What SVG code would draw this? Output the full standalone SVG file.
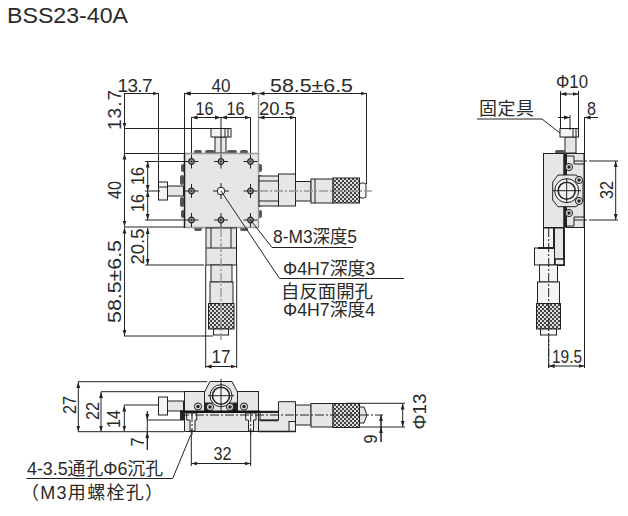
<svg xmlns="http://www.w3.org/2000/svg" width="628" height="516" viewBox="0 0 628 516">
<style>
text{font-family:"Liberation Sans","Noto Sans CJK JP",sans-serif;fill:#2a2a2a}
.t{font-size:19px;text-anchor:middle}
.c{font-size:18px}
.l{stroke:#222;stroke-width:1;fill:none}
.a{stroke:#222;stroke-width:1;fill:none;marker-start:url(#ar);marker-end:url(#ar)}
.e{stroke:#222;stroke-width:1;fill:none;marker-end:url(#ar)}
.g{fill:#e6e6e6;stroke:#222;stroke-width:1}
.w{fill:#f4f4f4;stroke:#222;stroke-width:1}
.k{fill:url(#kn);stroke:#222;stroke-width:1}
.b{fill:#222;stroke:none}
.m{stroke:#999;stroke-width:1.4;stroke-dasharray:9 2 2 2;fill:none}
.d{stroke:#222;stroke-width:1;stroke-dasharray:9 2 2 2;fill:none}
.s{stroke:#999;stroke-width:1.4;fill:none}
</style>
<defs>
<marker id="ar" markerWidth="7" markerHeight="5" refX="6" refY="2.5" orient="auto-start-reverse" markerUnits="userSpaceOnUse"><path d="M0 .6L6 2.5L0 4.4Z" fill="#222"/></marker>
<pattern id="kn" width="4" height="4" patternUnits="userSpaceOnUse"><rect width="4" height="4" fill="#444"/><rect width="2" height="2" fill="#ddd"/><rect x="2" y="2" width="2" height="2" fill="#ddd"/></pattern>
<g id="h"><path class="l" d="M-7 0H7M0-7V7"/><circle r="2.8" fill="#999" stroke="#222" stroke-width="1.2"/><circle r="1.1" fill="#333"/></g>
<g id="sc"><circle r="3.6" fill="#ddd" stroke="#222" stroke-width="1"/><circle r="1.7" fill="#222"/></g>
</defs>

<text id="title" x="7" y="23" font-size="22" textLength="121" lengthAdjust="spacingAndGlyphs">BSS23-40A</text>

<g id="top-view">
<rect class="w" x="158.5" y="182" width="9" height="18"/><rect class="g" x="167.5" y="186" width="16" height="10"/>
<rect class="g" x="215" y="137" width="11" height="16"/><rect class="w" x="211" y="128.5" width="20" height="8.5"/>
<path class="l" d="M225 129V137M228 129V137M159 187H167"/>
<g fill="#555">
<rect x="194" y="150" width="8" height="4" rx="2"/><rect x="205" y="150" width="10" height="4" rx="2"/><rect x="227" y="150" width="10" height="4" rx="2"/><rect x="240" y="150" width="8" height="4" rx="2"/>
<rect x="181" y="164" width="4" height="8" rx="2"/><rect x="180" y="175" width="4" height="10" rx="2"/><rect x="180" y="197" width="4" height="10" rx="2"/><rect x="181" y="210" width="4" height="8" rx="2"/>
<rect x="258" y="164" width="4" height="8" rx="2"/><rect x="258" y="175" width="4" height="10" rx="2"/><rect x="258" y="197" width="4" height="10" rx="2"/><rect x="258" y="210" width="4" height="8" rx="2"/>
<rect x="194" y="227" width="8" height="4" rx="2"/><rect x="240" y="227" width="8" height="4" rx="2"/>
</g>
<rect x="184.5" y="153.5" width="74" height="74" fill="#e6e6e6"/>
<path d="M184.5 153.5H258.5V227.5H184.5" fill="none" stroke="#999" stroke-width="1.4"/>
<path d="M184.5 153V228" stroke="#222" stroke-width="1.5"/>
<use href="#h" x="191.5" y="161.5"/><use href="#h" x="221" y="161.5"/><use href="#h" x="250.5" y="161.5"/>
<use href="#h" x="191.5" y="191"/><use href="#h" x="250.5" y="191"/>
<use href="#h" x="191.5" y="220"/><use href="#h" x="221" y="220"/><use href="#h" x="250.5" y="220"/>
<path class="l" d="M213 191H229M221 183V199"/><circle cx="221" cy="191" r="3.8" fill="#f4f4f4" stroke="#222"/>
<rect class="g" x="259" y="176" width="19.5" height="30"/><rect class="g" x="278.5" y="174" width="17" height="32"/>
<rect class="g" x="295.5" y="181.5" width="15.5" height="19.5"/><rect class="g" x="311" y="179" width="22" height="24"/>
<rect class="k" x="333" y="178" width="26.5" height="25"/><rect class="w" x="359.5" y="183" width="6.5" height="15" rx="2"/>
<path class="l" d="M259 181H278M259 201H278M315 179V203"/>
<path class="m" d="M259 191H372"/>
<rect class="g" x="206" y="228" width="30.5" height="37"/><path class="l" d="M206 248H236.5M211 228V248M231 228V248"/>
<rect class="g" x="211" y="265" width="21" height="17"/><rect class="g" x="210" y="282" width="23" height="21.5"/>
<rect class="k" x="208.5" y="303.5" width="25.5" height="25.5"/><rect class="w" x="213.5" y="329" width="15" height="6"/>
<path class="m" d="M221 228V340"/>
</g>

<g id="end-view">
<rect class="g" x="565" y="137" width="11" height="16"/><rect class="w" x="560" y="128.5" width="18.5" height="8.5"/>
<path class="l" d="M573 129V137M576 129V137"/>
<rect x="555" y="150" width="10" height="4" rx="2" fill="#555"/>
<rect class="g" x="543.5" y="153.5" width="20.5" height="74"/>
<rect class="g" x="566" y="153.5" width="18" height="74"/>
<path class="b" d="M563.5 153.5H567V175H563.5ZM563.5 206H567V227.5H563.5Z"/>
<path class="l" d="M567 156H574V164H584M567 226H574V217H584"/>
<path class="d" d="M574 161H590M574 220H590"/>
<path d="M558 175H576L583 181V201L576 206.7H558L552.7 200V182Z" class="g"/>
<circle cx="566.7" cy="190.7" r="12" class="w"/><circle cx="566.7" cy="190.7" r="8.5" fill="#f4f4f4" stroke="#222" stroke-width="1.6"/>
<path class="l" d="M553 190.7H581M566.7 178V203"/>
<use href="#sc" x="569" y="167"/><use href="#sc" x="569" y="213"/><use href="#sc" x="579" y="180"/><use href="#sc" x="579" y="201"/>
<rect class="w" x="543.5" y="228" width="10.5" height="20"/>
<rect class="g" x="554" y="228" width="10" height="37"/>
<rect class="w" x="534.5" y="248" width="20" height="17"/>
<path d="M538 248H554V228M564 228V265H554" fill="none" stroke="#222" stroke-width="2"/>
<rect x="555" y="259" width="9" height="6" fill="#eee" stroke="#222" stroke-width="1.5"/>
<rect class="w" x="539.5" y="265" width="18" height="17"/><rect class="w" x="537.5" y="282" width="22" height="21.5"/>
<rect class="k" x="536.5" y="303.5" width="24" height="25.5"/><rect class="w" x="540.5" y="329" width="16" height="6"/>
<path class="d" d="M548.7 228V368"/>
</g>

<g id="side-view">
<rect class="w" x="158.5" y="397" width="9" height="18"/><rect class="g" x="167.5" y="401" width="16" height="10"/>
<rect class="g" x="184.5" y="391.5" width="74" height="20"/>
<rect x="184.5" y="412" width="74" height="19.5" fill="#e6e6e6"/>
<path class="l" d="M184.5 412V431.5H258.5V412"/>
<path d="M204.5 392L210 381.5H232L237.5 392V403H204.5Z" class="g"/>
<circle cx="221" cy="395.7" r="11" class="w"/><circle cx="221" cy="395.7" r="8.5" fill="#f4f4f4" stroke="#222" stroke-width="1.6"/>
<path class="l" d="M221 379V412M208 395.7H234"/>
<path class="b" d="M204 403H208L212 411H230L233.5 403H238V411H204Z"/>
<use href="#sc" x="198" y="406.5"/><use href="#sc" x="210" y="407"/><use href="#sc" x="230" y="407"/><use href="#sc" x="244" y="406.5"/>
<path d="M180 411.7H260" stroke="#111" stroke-width="2.6"/>
<path class="b" d="M180 412H184V420H180Z"/>
<path class="w" d="M186.7 413H196.7V420H195V431H190V420H186.7Z"/><path class="w" d="M245.7 413H256V420H253.5V431H248.5V420H245.7Z"/>
<path class="d" d="M192 413V435M250.7 413V435"/>
<path class="g" d="M278.5 401.7H295.5V431.5H258.5V420H278.5Z"/>
<rect class="g" x="260" y="412.5" width="18.5" height="7.5"/>
<path d="M260 411.5H278M260 420.5H278" stroke="#222" stroke-width="1.6"/>
<rect x="289" y="421.5" width="6.5" height="10" fill="#eee" stroke="#222"/>
<path d="M258.5 431.5H295.5" stroke="#222" stroke-width="1.5"/>
<rect class="g" x="295.5" y="405" width="15.5" height="20"/><rect class="g" x="311" y="403.5" width="22" height="23.5"/>
<rect class="k" x="333" y="403.5" width="26.5" height="24"/>
<path class="g" d="M359.5 407H364L367 415L364 423H359.5Z"/>
<path class="d" d="M180 415H383"/>
</g>

<g id="dimensions">
<path class="e" d="M124.5 93.5H158.5"/><path class="e" d="M211 93.5H184.5" />
<path class="a" d="M184.5 93.5H258"/><path class="a" d="M258.5 93.5H366.5"/>
<path class="l" d="M124.5 93V153M158.5 93V182M184.5 93V153M366.5 93V184M191.5 117V153M221 117V153M250.5 117V153M295.5 117V174"/>
<path class="s" d="M258.5 93V153"/>
<path class="l" d="M124 128.5H214M124 153.5H184M124 227H184M145 161.5H184M145 220H184M145 191H160"/>
<path class="e" d="M124.5 100V128.5"/><path class="a" d="M124.5 153.5V226.5"/>
<path class="a" d="M191.5 117.5H221"/><path class="a" d="M221 117.5H250.5"/><path class="a" d="M258.5 117.5H295.5"/>
<path class="a" d="M147.7 161.5V191"/><path class="a" d="M147.7 191V220"/>
<path class="a" d="M124.5 227.5V336"/><path class="a" d="M147.7 228V265"/>
<path class="l" d="M124 336H213M145 265H204"/>
<path class="l" d="M205.7 265V368M236.7 265V368"/><path class="a" d="M205.7 366.5H236.7"/>
<path class="l" d="M221 191L279.5 278.5H404M250.5 220L272 247.5H353"/>
<path class="l" d="M78 381.7H207M101 391.7H184M124 405H159M147 420H184M78 431.7H184"/>
<path class="a" d="M78.3 382V431.5"/><path class="a" d="M101 392V431.5"/><path class="a" d="M124.3 405.5V431.5"/>
<path class="l" d="M147.3 411V450"/><path class="e" d="M147.3 412V420"/><path class="e" d="M147.3 450V432"/>
<path class="l" d="M191.3 430V466M250.7 431V466"/><path class="a" d="M191.3 463.5H250.7"/>
<path class="l" d="M190.7 435L172.7 478.5H26.5"/>
<path class="l" d="M346 403.3H405M359 427H405"/><path class="a" d="M402.7 403.5V427"/>
<path class="l" d="M381 415V442"/><path class="e" d="M381 428V415"/><path class="e" d="M381 442V427"/>
<path class="l" d="M560.5 91V128M578.5 91V128M570 115V130M584.5 117V368M548.7 340V368"/>
<path class="a" d="M560.5 94H578.5"/><path class="e" d="M558 117.5H570"/><path class="e" d="M598 117.5H584.5"/>
<path class="l" d="M477 119H542L560 133"/>
<path class="l" d="M590 161H618M590 220H618"/><path class="a" d="M615.7 161V220"/>
<path class="a" d="M548.7 366H584.5"/>
</g>

<g id="labels">
<text class="t" x="135" y="91.5" textLength="35" lengthAdjust="spacing">13.7</text>
<text class="t" x="221" y="91.5" textLength="19" lengthAdjust="spacingAndGlyphs">40</text>
<text class="t" x="311.5" y="91.5" textLength="83" lengthAdjust="spacingAndGlyphs">58.5±6.5</text>
<text class="t" x="204.5" y="115" textLength="18" lengthAdjust="spacingAndGlyphs">16</text>
<text class="t" x="235.5" y="115" textLength="18" lengthAdjust="spacingAndGlyphs">16</text>
<text class="t" x="277" y="115" textLength="36" lengthAdjust="spacingAndGlyphs">20.5</text>
<text class="t" transform="translate(120.5 110) rotate(-90)" textLength="40" lengthAdjust="spacing">13.7</text>
<text class="t" transform="translate(120.5 190) rotate(-90)" textLength="18" lengthAdjust="spacingAndGlyphs">40</text>
<text class="t" transform="translate(144 176) rotate(-90)" textLength="18" lengthAdjust="spacingAndGlyphs">16</text>
<text class="t" transform="translate(144 203) rotate(-90)" textLength="18" lengthAdjust="spacingAndGlyphs">16</text>
<text class="t" transform="translate(120.5 281.5) rotate(-90)" textLength="83" lengthAdjust="spacingAndGlyphs">58.5±6.5</text>
<text class="t" transform="translate(144 246.5) rotate(-90)" textLength="36" lengthAdjust="spacingAndGlyphs">20.5</text>
<text class="t" x="221" y="362.5" textLength="19" lengthAdjust="spacingAndGlyphs">17</text>
<text class="c" x="273" y="243" textLength="84" lengthAdjust="spacingAndGlyphs">8-M3深度5</text>
<text class="c" x="283" y="275" textLength="92" lengthAdjust="spacingAndGlyphs">Φ4H7深度3</text>
<text class="c" x="281" y="298" textLength="92" lengthAdjust="spacingAndGlyphs">自反面開孔</text>
<text class="c" x="283" y="316" textLength="92" lengthAdjust="spacingAndGlyphs">Φ4H7深度4</text>
<text class="t" transform="translate(76 405) rotate(-90)" textLength="18" lengthAdjust="spacingAndGlyphs">27</text>
<text class="t" transform="translate(98.5 411) rotate(-90)" textLength="18" lengthAdjust="spacingAndGlyphs">22</text>
<text class="t" transform="translate(120 419) rotate(-90)" textLength="18" lengthAdjust="spacingAndGlyphs">14</text>
<text class="t" transform="translate(143.5 442) rotate(-90)" textLength="9" lengthAdjust="spacingAndGlyphs">7</text>
<text class="t" transform="translate(426 411.5) rotate(-90)" textLength="36" lengthAdjust="spacingAndGlyphs">Φ13</text>
<text class="t" transform="translate(376.5 439) rotate(-90)" textLength="9" lengthAdjust="spacingAndGlyphs">9</text>
<text class="t" x="222.5" y="460" textLength="18" lengthAdjust="spacingAndGlyphs">32</text>
<text class="c" x="27" y="475" textLength="136" lengthAdjust="spacingAndGlyphs">4-3.5通孔Φ6沉孔</text>
<text class="c" x="21" y="499" textLength="142">（M3用螺栓孔）</text>
<text class="t" x="572" y="88" textLength="32" lengthAdjust="spacingAndGlyphs">Φ10</text>
<text class="t" x="591.5" y="115" textLength="9" lengthAdjust="spacingAndGlyphs">8</text>
<text class="c" x="479" y="115" textLength="55" lengthAdjust="spacing">固定具</text>
<text class="t" transform="translate(612.5 190) rotate(-90)" textLength="18" lengthAdjust="spacingAndGlyphs">32</text>
<text class="t" x="567" y="363" textLength="30" lengthAdjust="spacingAndGlyphs">19.5</text>
</g>
</svg>
